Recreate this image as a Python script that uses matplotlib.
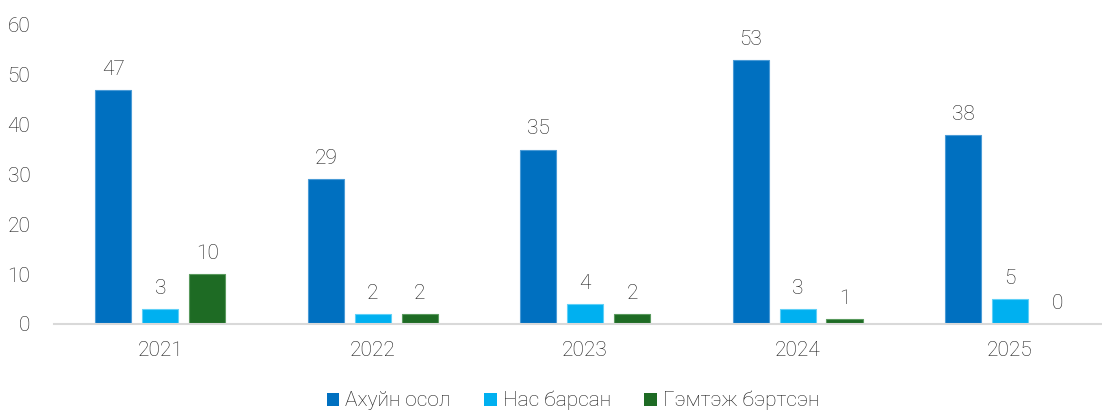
import matplotlib.pyplot as plt
import numpy as np
from matplotlib.patches import Patch

plt.rcParams['font.family'] = ['Roboto', 'DejaVu Sans']
plt.rcParams['font.weight'] = 'light'

years = ['2021', '2022', '2023', '2024', '2025']
accidents = [47, 29, 35, 53, 38]
deaths = [3, 2, 4, 3, 5]
injured = [10, 2, 2, 1, 0]

series_names = ['Ахуйн осол', 'Нас барсан', 'Гэмтэж бэртсэн']
colors = ['#0070C0', '#00B0F0', '#1E6B24']
edges = ['#4a9bd6', '#5fd0f7', '#5a9a5e']
text_color = '#1a1a1a'
fs = 15

fig = plt.figure(figsize=(11.02, 4.11), dpi=100)
ax = fig.add_axes([0.049, 0.2117, 0.951, 0.7275])

x = np.arange(len(years))
width = 0.17
step = 0.221
for i, (vals, c, e) in enumerate(zip([accidents, deaths, injured], colors, edges)):
    pos = x + (i - 1) * step
    bars = ax.bar(pos, vals, width, color=c, edgecolor=e, linewidth=0.8)
    for b, v in zip(bars, vals):
        ax.annotate(str(v), (b.get_x() + b.get_width() / 2, v),
                    xytext=(0, 8), textcoords='offset points',
                    ha='center', va='bottom', fontsize=fs, color=text_color)

ax.set_ylim(0, 60)
ax.set_xlim(-0.5, 4.433)
ax.set_yticks(range(0, 61, 10))
ax.set_xticks(x)
ax.set_xticklabels(years)
ax.tick_params(length=0, labelsize=fs, colors=text_color)
ax.tick_params(axis='x', pad=12)
ax.tick_params(axis='y', pad=17)
for s in ['top', 'right', 'left']:
    ax.spines[s].set_visible(False)
ax.spines['bottom'].set_color('#d9d9d9')
ax.spines['bottom'].set_linewidth(1.5)

handles = [Patch(facecolor=c) for c in colors]
fig.legend(handles, series_names, loc='center', bbox_to_anchor=(0.52, 0.025),
           ncol=3, frameon=False, fontsize=fs, handlelength=0.6, handleheight=0.6,
           handletextpad=0.3, columnspacing=1.6, labelcolor=text_color)

fig.savefig('out.png', dpi=100)
